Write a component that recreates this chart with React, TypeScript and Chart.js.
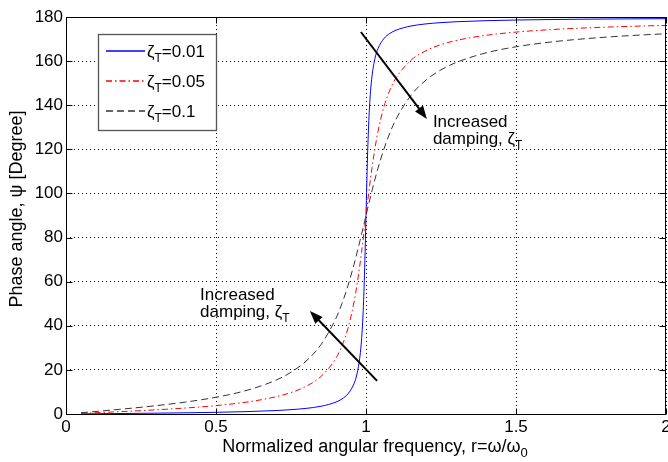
import React, { useEffect, useRef } from "react";
import { Chart, registerables } from "chart.js";

Chart.register(...registerables);

// Normalized angular frequency r = ω/ω0
const rValues = [
  0.05, 0.1, 0.2, 0.3, 0.4, 0.5, 0.6, 0.7, 0.75, 0.8, 0.85, 0.9, 0.92, 0.94,
  0.96, 0.97, 0.98, 0.985, 0.99, 0.995, 1.0, 1.005, 1.01, 1.015, 1.02, 1.03,
  1.04, 1.06, 1.08, 1.1, 1.15, 1.2, 1.25, 1.3, 1.4, 1.5, 1.6, 1.7, 1.8, 1.9, 2.0,
];

// Phase angle ψ [deg] for ζT = 0.01
const phaseZeta001 = [
  0.06, 0.12, 0.24, 0.38, 0.55, 0.76, 1.07, 1.57, 1.96, 2.55, 3.51, 5.41, 6.83,
  9.17, 13.76, 18.17, 26.33, 33.49, 44.86, 63.38, 90.0, 116.51, 134.86, 146.12,
  153.21, 161.31, 165.7, 170.27, 172.6, 174.02, 175.92, 176.88, 177.45, 177.84,
  178.33, 178.63, 178.83, 178.97, 179.08, 179.17, 179.24,
];

// Phase angle ψ [deg] for ζT = 0.05
const phaseZeta005 = [
  0.29, 0.58, 1.19, 1.89, 2.73, 3.81, 5.36, 7.82, 9.73, 12.53, 17.03, 25.35,
  30.92, 38.92, 50.76, 58.65, 68.0, 73.18, 78.63, 84.28, 90.0, 95.7, 101.26,
  106.58, 111.61, 120.59, 128.12, 139.38, 147.0, 152.35, 160.37, 164.74, 167.47,
  169.33, 171.7, 173.16, 174.14, 174.86, 175.41, 175.84, 176.19,
];

// Phase angle ψ [deg] for ζT = 0.1
const phaseZeta01 = [
  0.57, 1.16, 2.39, 3.77, 5.44, 7.6, 10.62, 15.35, 18.92, 23.96, 31.49, 43.45,
  50.14, 58.24, 67.79, 73.06, 78.58, 81.41, 84.26, 87.13, 90.0, 92.86, 95.68,
  98.47, 101.2, 106.47, 111.42, 120.24, 127.61, 133.67, 144.5, 151.39, 156.04,
  159.35, 163.74, 166.5, 168.41, 169.8, 170.87, 171.72, 172.41,
];

const seriesNames = ["0.01", "0.05", "0.1"];
const xTickLabels = ["0", "0.5", "1", "1.5", "2"];
const yTickValues = [0, 20, 40, 60, 80, 100, 120, 140, 160, 180];

// annotation anchors in data units [r, ψ]
const upperArrow = [0.983, 173.2, 1.203, 133.8];
const upperText = [1.223, 130.1, 122.4];
const lowerArrow = [1.037, 15.0, 0.813, 46.7];
const lowerText = [0.447, 51.7, 44.0];

const FONT = "'Liberation Sans', Arial, Helvetica, sans-serif";
const LINE_COLORS = ["rgb(0,0,255)", "rgb(255,0,0)", "rgb(51,51,51)"];
const DASHES: number[][] = [[], [6, 3, 1.5, 3], [7, 4]];

type Part = { t: string; sub?: boolean };

function drawRich(
  ctx: CanvasRenderingContext2D,
  x: number,
  y: number,
  parts: Part[],
  size: number,
  align: "left" | "center" = "left"
) {
  const subSize = Math.round(size * 0.72);
  let total = 0;
  const widths = parts.map((p) => {
    ctx.font = `${p.sub ? subSize : size}px ${FONT}`;
    const w = ctx.measureText(p.t).width;
    total += w;
    return w;
  });
  let cx = align === "center" ? x - total / 2 : x;
  ctx.textAlign = "left";
  ctx.textBaseline = "alphabetic";
  parts.forEach((p, i) => {
    ctx.font = `${p.sub ? subSize : size}px ${FONT}`;
    ctx.fillText(p.t, cx, p.sub ? y + size * 0.3 : y);
    cx += widths[i];
  });
}

function drawArrow(ctx: CanvasRenderingContext2D, x1: number, y1: number, x2: number, y2: number) {
  const ang = Math.atan2(y2 - y1, x2 - x1);
  const headLen = 13;
  const headW = 5;
  ctx.save();
  ctx.strokeStyle = "#000";
  ctx.fillStyle = "#000";
  ctx.lineWidth = 2;
  ctx.setLineDash([]);
  ctx.beginPath();
  ctx.moveTo(x1, y1);
  ctx.lineTo(x2 - Math.cos(ang) * headLen * 0.8, y2 - Math.sin(ang) * headLen * 0.8);
  ctx.stroke();
  const bx = x2 - Math.cos(ang) * headLen;
  const by = y2 - Math.sin(ang) * headLen;
  ctx.beginPath();
  ctx.moveTo(x2, y2);
  ctx.lineTo(bx + Math.sin(ang) * headW, by - Math.cos(ang) * headW);
  ctx.lineTo(bx - Math.sin(ang) * headW, by + Math.cos(ang) * headW);
  ctx.closePath();
  ctx.fill();
  ctx.restore();
}

const decorPlugin = {
  id: "decor",
  afterDraw(chart: any) {
    const ctx: CanvasRenderingContext2D = chart.ctx;
    const a = chart.chartArea;
    const xs = chart.scales.x;
    const ys = chart.scales.y;
    ctx.save();

    // frame
    ctx.strokeStyle = "#000";
    ctx.lineWidth = 1;
    ctx.setLineDash([]);
    const L = Math.round(a.left) + 0.5;
    const R = Math.round(a.right) - 0.5;
    const T = Math.round(a.top) + 0.5;
    const B = Math.round(a.bottom) + 0.5;
    ctx.beginPath();
    ctx.rect(L, T, R - L, B - T);
    ctx.stroke();

    // inward tick marks
    const tl = 6;
    ctx.beginPath();
    xTickLabels.forEach((s) => {
      const px = Math.round(xs.getPixelForValue(parseFloat(s))) + 0.5;
      ctx.moveTo(px, B);
      ctx.lineTo(px, B - tl);
      ctx.moveTo(px, T);
      ctx.lineTo(px, T + tl);
    });
    yTickValues.forEach((v) => {
      const py = Math.round(ys.getPixelForValue(v)) + 0.5;
      ctx.moveTo(L, py);
      ctx.lineTo(L + tl, py);
      ctx.moveTo(R, py);
      ctx.lineTo(R - tl, py);
    });
    ctx.stroke();

    // legend
    const lx = 98.5, ly = 34.5, lw = 118, lh = 96;
    ctx.fillStyle = "#ffffff";
    ctx.fillRect(lx, ly, lw, lh);
    ctx.strokeStyle = "#555555";
    ctx.lineWidth = 1.3;
    ctx.strokeRect(lx, ly, lw, lh);
    for (let i = 0; i < seriesNames.length; i++) {
      const yLine = 51 + i * 30;
      const col = LINE_COLORS[i];
      ctx.save();
      ctx.beginPath();
      ctx.setLineDash(DASHES[i]);
      ctx.lineWidth = 1.5;
      ctx.strokeStyle = col;
      ctx.moveTo(106, yLine);
      ctx.lineTo(145, yLine);
      ctx.stroke();
      ctx.restore();
      ctx.fillStyle = "#000000";
      drawRich(ctx, 147, yLine + 6, [{ t: "ζ" }, { t: "T", sub: true }, { t: "=" + seriesNames[i] }], 17);
    }

    // annotations
    drawArrow(
      ctx,
      xs.getPixelForValue(upperArrow[0]),
      ys.getPixelForValue(upperArrow[1]),
      xs.getPixelForValue(upperArrow[2]),
      ys.getPixelForValue(upperArrow[3])
    );
    drawArrow(
      ctx,
      xs.getPixelForValue(lowerArrow[0]),
      ys.getPixelForValue(lowerArrow[1]),
      xs.getPixelForValue(lowerArrow[2]),
      ys.getPixelForValue(lowerArrow[3])
    );
    ctx.fillStyle = "#000";
    [upperText, lowerText].forEach((tx) => {
      const px = xs.getPixelForValue(tx[0]);
      drawRich(ctx, px, ys.getPixelForValue(tx[1]), [{ t: "Increased" }], 17);
      drawRich(ctx, px, ys.getPixelForValue(tx[2]), [{ t: "damping, ζ" }, { t: "T", sub: true }], 17);
    });

    // axis titles
    drawRich(
      ctx,
      375,
      452,
      [{ t: "Normalized angular frequency, r=ω/ω" }, { t: "0", sub: true }],
      18,
      "center"
    );
    ctx.save();
    ctx.translate(22, 209);
    ctx.rotate(-Math.PI / 2);
    drawRich(ctx, 0, 0, [{ t: "Phase angle, ψ [Degree]" }], 18, "center");
    ctx.restore();

    ctx.restore();
  },
};

export default function App() {
  const ref = useRef<HTMLCanvasElement | null>(null);
  useEffect(() => {
    if (!ref.current) return;
    const series = [phaseZeta001, phaseZeta005, phaseZeta01];
    const chart = new Chart(ref.current, {
      type: "line",
      data: {
        datasets: series.map((vals, i) => ({
          label: "ζT=" + seriesNames[i],
          data: rValues.map((r, k) => ({ x: r, y: vals[k] })),
          borderColor: LINE_COLORS[i],
          borderDash: DASHES[i],
          borderWidth: 1,
          pointRadius: 0,
          fill: false,
          cubicInterpolationMode: "monotone" as const,
          order: 2 - i,
        })),
      },
      options: {
        animation: false,
        responsive: false,
        devicePixelRatio: 1,
        layout: { padding: { top: 17, right: 2, left: 0, bottom: 0 } },
        plugins: { legend: { display: false }, tooltip: { enabled: false } },
        scales: {
          x: {
            type: "linear",
            min: 0,
            max: 2,
            ticks: {
              stepSize: 0.5,
              color: "#000",
              font: { family: FONT, size: 17 },
              padding: 3,
              maxRotation: 0,
              callback: (_v: any, i: number) => xTickLabels[i],
            },
            grid: { color: "#000", lineWidth: 1, drawTicks: false },
            border: { display: false, dash: [1, 3] },
            afterFit: (s: any) => {
              s.height = 48;
              s.paddingLeft = 0;
              s.paddingRight = 0;
            },
          },
          y: {
            type: "linear",
            min: 0,
            max: 180,
            ticks: {
              stepSize: 20,
              color: "#000",
              font: { family: FONT, size: 17 },
              padding: 3,
            },
            grid: { color: "#000", lineWidth: 1, drawTicks: false },
            border: { display: false, dash: [1, 3] },
            afterFit: (s: any) => {
              s.width = 66;
              s.paddingTop = 0;
              s.paddingBottom = 0;
            },
          },
        },
      },
      plugins: [decorPlugin],
    });
    return () => chart.destroy();
  }, []);
  return (
    <div style={{ position: "fixed", left: 0, top: 0, width: 668, height: 462, background: "#fff" }}>
      <canvas ref={ref} width={668} height={462} />
    </div>
  );
}
